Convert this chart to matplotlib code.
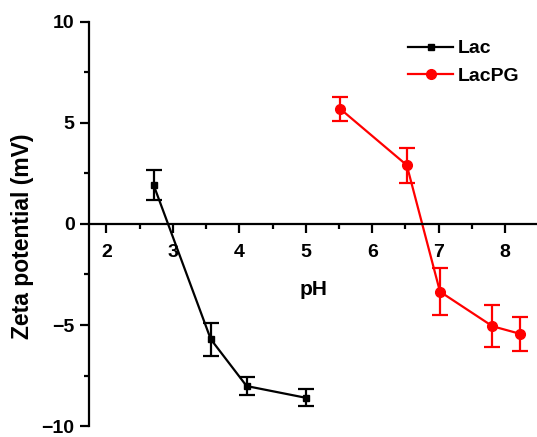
import matplotlib
matplotlib.use('Agg')
import matplotlib.pyplot as plt
from matplotlib.ticker import MultipleLocator
from matplotlib.lines import Line2D

plt.rcParams['font.family'] = ['Liberation Sans', 'DejaVu Sans']
plt.rcParams['font.weight'] = 'bold'

# Lac (black squares)
lac_ph = [2.71, 3.57, 4.11, 5.00]
lac_zeta = [1.93, -5.70, -8.02, -8.60]
lac_err = [0.72, 0.82, 0.45, 0.41]

# LacPG (red circles)
lacpg_ph = [5.52, 6.52, 7.02, 7.81, 8.23]
lacpg_zeta = [5.69, 2.91, -3.35, -5.06, -5.44]
lacpg_err = [0.58, 0.87, 1.17, 1.03, 0.86]

fig = plt.figure(figsize=(5.37, 4.37), dpi=100)
ax = fig.add_axes([0.166, 0.025, 0.834, 0.925])

ax.errorbar(lac_ph, lac_zeta, yerr=lac_err, color='black', marker='s', ms=5,
            lw=1.6, elinewidth=1.6, capsize=6, capthick=1.6)
ax.errorbar(lacpg_ph, lacpg_zeta, yerr=lacpg_err, color='red', marker='o', ms=7,
            lw=1.6, elinewidth=1.6, capsize=6, capthick=1.6)

ax.set_xlim(1.74, 8.48)
ax.set_ylim(-10, 10)

ax.spines['top'].set_visible(False)
ax.spines['right'].set_visible(False)
ax.spines['bottom'].set_position(('data', 0))
for s in ['left', 'bottom']:
    ax.spines[s].set_linewidth(1.6)

ax.xaxis.set_major_locator(MultipleLocator(1))
ax.xaxis.set_minor_locator(MultipleLocator(0.5))
ax.yaxis.set_major_locator(MultipleLocator(5))
ax.yaxis.set_minor_locator(MultipleLocator(2.5))
ax.set_xticks([2, 3, 4, 5, 6, 7, 8])
ax.tick_params(which='major', direction='out', length=6.5, width=1.6, labelsize=14, pad=8)
ax.tick_params(which='minor', direction='out', length=3.5, width=1.6)
ax.tick_params(axis='y', pad=4)

for lab in ax.get_xticklabels() + ax.get_yticklabels():
    lab.set_fontweight('bold')

ax.text(5.11, -3.5, 'pH', fontsize=15, fontweight='bold', ha='center', va='baseline')
fig.text(23 / 537, 1 - 236 / 437, 'Zeta potential (mV)', rotation=90, fontsize=16.5,
         fontweight='bold', ha='center', va='center')

handles = [Line2D([], [], color='black', marker='s', ms=5, lw=1.6),
           Line2D([], [], color='red', marker='o', ms=7, lw=1.6)]
leg = ax.legend(handles, ['Lac', 'LacPG'], loc='upper left', bbox_to_anchor=(0.695, 0.975),
                frameon=False, fontsize=14, handlelength=2.3, handletextpad=0.25,
                labelspacing=0.5, borderaxespad=0)
for t in leg.get_texts():
    t.set_fontweight('bold')

fig.savefig('out.png', dpi=100)
